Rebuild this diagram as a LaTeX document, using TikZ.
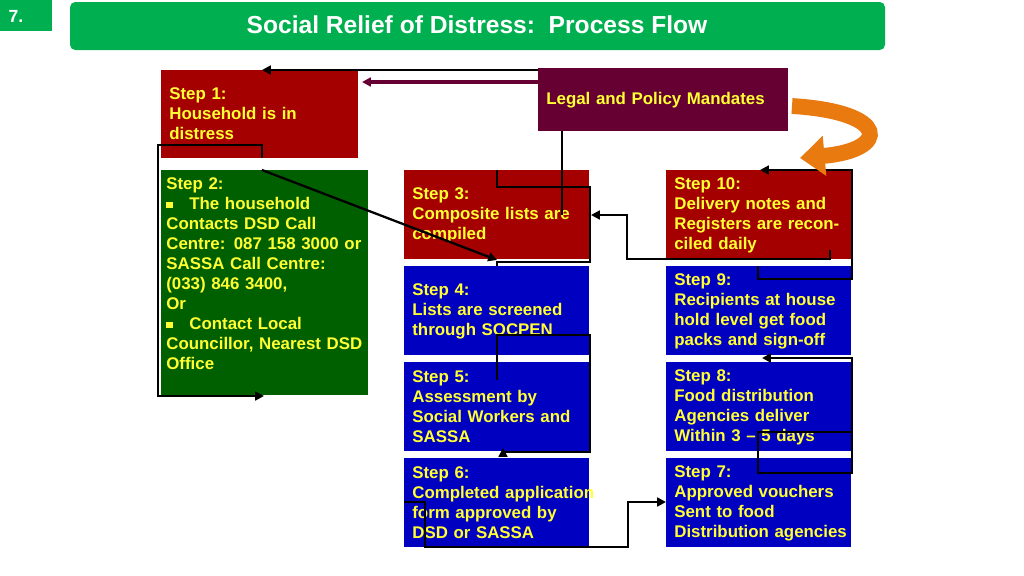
\documentclass[tikz,border=0pt]{standalone}
\usepackage{fontspec}
\setmainfont{Liberation Sans}
\usetikzlibrary{arrows.meta,positioning}
\definecolor{titlegreen}{HTML}{00B050}
\definecolor{stepred}{HTML}{A50000}
\definecolor{stepgreen}{HTML}{006000}
\definecolor{stepblue}{HTML}{0000C0}
\definecolor{mandate}{HTML}{660033}
\definecolor{txtyellow}{HTML}{FFFF33}
\definecolor{arrorange}{HTML}{E87A10}
\tikzset{
	stepbox/.style={anchor=north west, inner sep=0pt, text width=#1, align=left,
		font=\fontsize{9.6}{11.4}\selectfont\bfseries, text=txtyellow},
	flow/.style={line width=1.3pt, -{Triangle[length=5pt,width=5pt]}},
	plain/.style={line width=1.3pt}
}
\newcommand{\sqbullet}{\rule[1pt]{3.5pt}{3.5pt}\quad}
\begin{document}
\begin{tikzpicture}[x=0.02cm, y=-0.02cm]
			\useasboundingbox (0,0) rectangle (1024,575);
			% heading
			\fill[titlegreen] (0,0) rectangle (52,31);
			\node (num) at (16,16) [text=white, font=\bfseries\fontsize{10}{12}\selectfont] {7.};
			\fill[titlegreen, rounded corners=3pt] (70,2) rectangle (885,50);
			\node (title) at (477,25) [text=white, font=\bfseries\fontsize{14}{16}\selectfont] {Social Relief of Distress:\ \ Process Flow};
			% boxes
			\fill[stepred] (161,70) rectangle (358,158);
			\node (s1) at (169,114) [stepbox=3.6cm, anchor=west] {Step 1:\\Household is in\\distress};
			\fill[mandate] (538,68) rectangle (788,131);
			\node (legal) at (546,100) [stepbox=4.8cm, anchor=west] {Legal and Policy Mandates};
			\fill[stepgreen] (161,170) rectangle (368,395);
			\node (s2) at (166,274) [stepbox=4cm, anchor=west] {Step 2:\\\sqbullet The household\\Contacts DSD Call\\Centre: 087 158 3000 or\\SASSA Call Centre:\\(033) 846 3400,\\Or\\\sqbullet Contact Local\\Councillor, Nearest DSD\\Office};
			\fill[stepred] (404,170) rectangle (589,259);
			\node (s3) at (412,215) [stepbox=3.6cm, anchor=west] {Step 3:\\Composite lists are\\compiled};
			\fill[stepblue] (404,266) rectangle (589,355);
			\node (s4) at (412,311) [stepbox=3.6cm, anchor=west] {Step 4:\\Lists are screened\\through SOCPEN};
			\fill[stepblue] (404,362) rectangle (589,451);
			\node (s5) at (412,407) [stepbox=3.6cm, anchor=west] {Step 5:\\Assessment by\\Social Workers and\\SASSA};
			\fill[stepblue] (404,458) rectangle (589,547);
			\node (s6) at (412,503) [stepbox=3.7cm, anchor=west] {Step 6:\\Completed application\\form approved by\\DSD or SASSA};
			\fill[stepred] (666,170) rectangle (851,259);
			\node (s10) at (674,215) [stepbox=3.6cm, anchor=west] {Step 10:\\Delivery notes and\\Registers are recon-\\ciled daily};
			\fill[stepblue] (666,266) rectangle (851,355);
			\node (s9) at (674,311) [stepbox=3.6cm, anchor=west] {Step 9:\\Recipients at house\\hold level get food\\packs and sign-off};
			\fill[stepblue] (666,362) rectangle (851,451);
			\node (s8) at (674,407) [stepbox=3.6cm, anchor=west] {Step 8:\\Food distribution\\Agencies deliver\\Within 3 -- 5 days};
			\fill[stepblue] (666,458) rectangle (851,547);
			\node (s7) at (674,503) [stepbox=3.6cm, anchor=west] {Step 7:\\Approved vouchers\\Sent to food\\Distribution agencies};
			% connectors
			\draw[flow] (538,70) -- (262,70);
			\draw[flow, mandate, line width=2pt] (538,82) -- (362,82);
			\draw[plain] (562,131) -- (562,215);
			\draw[flow] (830,250) -- (830,259) -- (627,259) -- (627,215) -- (591,215);
			\draw[flow] (262,158) -- (262,145) -- (158,145) -- (158,396) -- (264,396);
			\draw[flow] (262,170) -- (497,260);
			\draw[plain] (497,170) -- (497,187) -- (590,187) -- (590,262) -- (497,262) -- (497,266);
			\draw[flow] (497,380) -- (497,335) -- (590,335) -- (590,452) -- (503,452) -- (503,448);
			\draw[flow] (404,502) -- (425,502) -- (425,547) -- (628,547) -- (628,502) -- (666,502);
			\draw[flow] (852,432) -- (758,432) -- (758,473) -- (852,473) -- (852,358) -- (762,358);
			\draw[flow] (758,266) -- (758,279) -- (852,279) -- (852,170) -- (760,170);
			% orange turn arrow
			\draw[arrorange, line width=9pt, -{Triangle[length=14pt,width=22pt]}]
				(792,106) .. controls (890,112) and (890,150) .. (800,158);
\end{tikzpicture}
\end{document}
